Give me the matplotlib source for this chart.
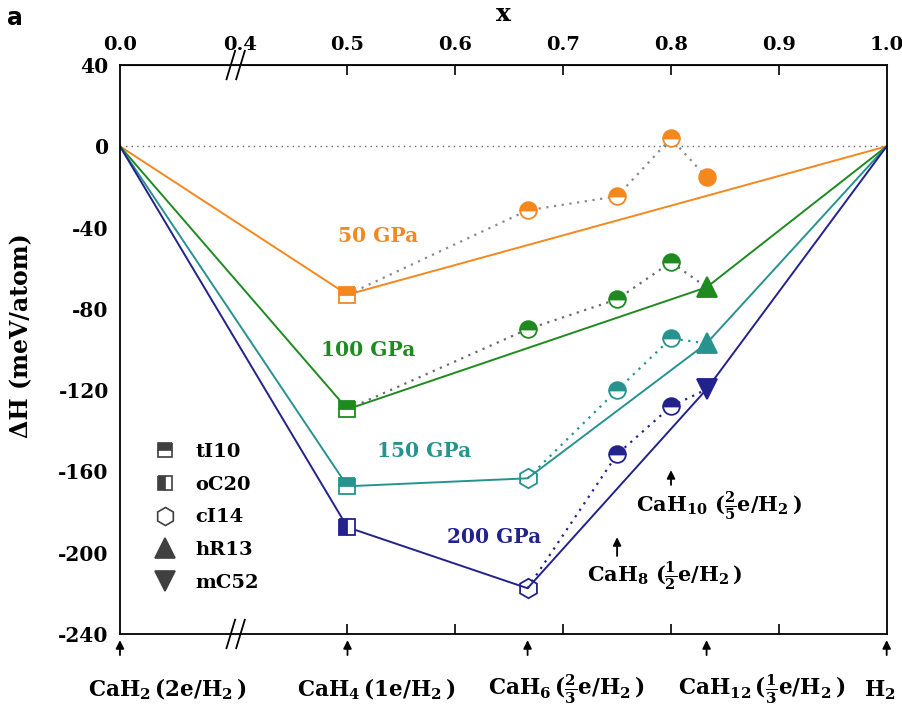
import matplotlib
matplotlib.use("Agg")
import matplotlib.pyplot as plt
from matplotlib.lines import Line2D

plt.rcParams['font.family'] = 'DejaVu Serif'
plt.rcParams['font.weight'] = 'bold'
plt.rcParams['mathtext.fontset'] = 'custom'
plt.rcParams['mathtext.rm'] = 'DejaVu Serif:bold'
plt.rcParams['mathtext.it'] = 'DejaVu Serif:bold'
plt.rcParams['mathtext.bf'] = 'DejaVu Serif:bold'
plt.rcParams['axes.unicode_minus'] = False

# compositions x (CaH4, CaH6, CaH8, CaH10, CaH12)
x_comp = [0.5, 0.667, 0.75, 0.8, 0.833]
x_ends = [0.0, 1.0]

# formation enthalpies (meV/atom)
dH_50 = [-73, -31.5, -24.6, 3.9, -15.3]
dH_100 = [-129.4, -90, -75.3, -57, -69.4]
dH_150 = [-167.3, -163.4, -120, -94.5, -97]
dH_200 = [-187.5, -217.5, -151.6, -128, -119.6]

# indices (into x_comp) on the convex hull / on the dotted branch
hull_50, hull_100, hull_150, hull_200 = [0], [0, 4], [0, 1, 4], [0, 1, 4]
dot_50, dot_100, dot_150, dot_200 = [0, 1, 2, 3, 4], [0, 1, 2, 3, 4], [1, 2, 3, 4], [1, 2, 3, 4]

# phase of each point
ph_50 = ['tI10', 'half', 'half', 'half', 'full']
ph_100 = ['tI10', 'half', 'half', 'half', 'hR13']
ph_150 = ['tI10', 'cI14', 'half', 'half', 'hR13']
ph_200 = ['oC20', 'cI14', 'half', 'half', 'mC52']

pressures = ['50 GPa', '100 GPa', '150 GPa', '200 GPa']
top_ticks = [0.0, 0.4, 0.5, 0.6, 0.7, 0.8, 0.9, 1.0]
top_labels = ['0.0', '0.4', '0.5', '0.6', '0.7', '0.8', '0.9', '1.0']
bottom_x = [0.0, 0.5, 0.667, 0.833, 1.0]
bottom_labels = [r'CaH$_2\,$(2e/H$_2\,$)', r'CaH$_4\,$(1e/H$_2\,$)', r'CaH$_6\,$($\frac{2}{3}$e/H$_2\,$)',
                 r'CaH$_{12}\,$($\frac{1}{3}$e/H$_2\,$)', r'H$_2$']
legend_phases = ['tI10', 'oC20', 'cI14', 'hR13', 'mC52']

colors = ['#F5871F', '#1F8A1F', '#26938E', '#22228C']
dot_colors = ['#8a8a8a', '#6a6a6a', '#26938E', '#22228C']

marker_style = {
    'tI10': dict(marker='s', fillstyle='top', ms=11),
    'oC20': dict(marker='s', fillstyle='left', ms=11),
    'cI14': dict(marker='h', fillstyle='none', ms=14),
    'hR13': dict(marker='^', fillstyle='full', ms=15),
    'mC52': dict(marker='v', fillstyle='full', ms=15),
    'half': dict(marker='o', fillstyle='top', ms=12),
    'full': dict(marker='o', fillstyle='full', ms=12),
}


def to_u(x):
    # broken axis: 0.0-0.4 squeezed
    if x < 0.4:
        return 0.4 - (0.4 - x) * 0.111 / 0.4
    return x


fig = plt.figure(figsize=(9.02, 7.07), dpi=100)
ax = fig.add_axes([0.133, 0.1033, 0.850, 0.8047])

ax.axhline(0, color='#666666', ls=(0, (1, 3)), lw=1, zorder=1)

series = [(dH_50, hull_50, dot_50, ph_50), (dH_100, hull_100, dot_100, ph_100),
          (dH_150, hull_150, dot_150, ph_150), (dH_200, hull_200, dot_200, ph_200)]

for (dh, hull, dots, ph), c, dc in zip(series, colors, dot_colors):
    hx = [to_u(x_ends[0])] + [x_comp[i] for i in hull] + [x_ends[1]]
    hy = [0] + [dh[i] for i in hull] + [0]
    ax.plot(hx, hy, color=c, lw=1.4, zorder=2)
    ax.plot([x_comp[i] for i in dots], [dh[i] for i in dots], color=dc,
            ls=(0, (1, 2.5)), lw=1.6, zorder=2)
    for xi, yi, p in zip(x_comp, dh, ph):
        st = marker_style[p]
        ax.plot(xi, yi, marker=st['marker'], ms=st['ms'], fillstyle=st['fillstyle'],
                color=c, markerfacecoloralt='white', markeredgecolor=c,
                markeredgewidth=1.3, ls='none', zorder=4)

# pressure labels
lab_pos = [(0.528, -44), (0.519, -100), (0.571, -150), (0.636, -192.5)]
for txt, c, (lx, ly) in zip(pressures, colors, lab_pos):
    ax.text(lx, ly, txt, color=c, fontsize=14.5, fontweight='bold', ha='center', va='center')

# CaH8 / CaH10 arrows
ax.annotate('', xy=(0.75, -191), xytext=(0.75, -203),
            arrowprops=dict(arrowstyle='-|>', color='black', lw=1.3, mutation_scale=12))
ax.text(0.794, -211.5, r'CaH$_8$ ($\frac{1}{2}$e/H$_2\,$)', fontsize=15, ha='center', va='center')
ax.annotate('', xy=(0.8, -158), xytext=(0.8, -168),
            arrowprops=dict(arrowstyle='-|>', color='black', lw=1.3, mutation_scale=12))
ax.text(0.844, -177, r'CaH$_{10}$ ($\frac{2}{5}$e/H$_2\,$)', fontsize=15, ha='center', va='center')

ax.set_xlim(to_u(0.0), 1.0)
ax.set_ylim(-240, 40)
ax.set_yticks(range(-240, 41, 40))
ax.set_xticks([0.5, 0.6, 0.7, 0.8, 0.9])
ax.set_xticklabels([])
ax.tick_params(axis='x', direction='in', length=7, top=True, bottom=True, width=1.2)
ax.tick_params(axis='y', length=0, labelsize=14.5, pad=8)
for lbl in ax.get_yticklabels():
    lbl.set_fontweight('bold')
for sp in ax.spines.values():
    sp.set_linewidth(1.3)
ax.set_ylabel('ΔH (meV/atom)', fontsize=17, fontweight='bold')
ax.yaxis.set_label_coords(-0.113, 0.525)

top = ax.secondary_xaxis('top')
top.set_xticks([to_u(t) for t in top_ticks])
top.set_xticklabels(top_labels, fontsize=14, fontweight='bold')
top.tick_params(length=0, pad=8)
top.set_xlabel('x', fontsize=18, fontweight='bold', labelpad=11)

# axis break marks
bx = to_u(0.392)
for yb in (0.0, 1.0):
    for dx in (-0.006, 0.003):
        ax.plot([bx + dx - 0.004, bx + dx + 0.004], [yb - 0.025, yb + 0.025],
                transform=ax.get_xaxis_transform(), color='black', lw=1.3, clip_on=False)

# bottom arrows and compound labels
offsets = [-32, -50, -40, -29, -23]
for xb, lab, off in zip(bottom_x, bottom_labels, offsets):
    u = to_u(xb)
    ax.annotate('', xy=(u, -0.006), xytext=(u, -0.042), xycoords=('data', 'axes fraction'),
                textcoords=('data', 'axes fraction'),
                arrowprops=dict(arrowstyle='-|>', color='black', lw=1.3, mutation_scale=12),
                annotation_clip=False)
    ax.annotate(lab, xy=(u, -0.098), xycoords=('data', 'axes fraction'),
                xytext=(off * 0.72, 0), textcoords='offset points',
                fontsize=15.5, ha='left', va='center', annotation_clip=False)

# legend
handles = []
for p in legend_phases:
    st = marker_style[p]
    handles.append(Line2D([], [], marker=st['marker'], ms=st['ms'] - 1, fillstyle=st['fillstyle'],
                          color='#404040', markerfacecoloralt='white', markeredgecolor='#404040',
                          markeredgewidth=1.2, ls='none'))
ax.legend(handles, legend_phases, loc='upper left', bbox_to_anchor=(0.01, 0.366), frameon=False,
          handletextpad=0.6, labelspacing=0.75, prop={'weight': 'bold', 'size': 14})

fig.text(0.008, 0.975, 'a', fontsize=17, family='DejaVu Sans', va='center')

fig.savefig('out.png', dpi=100)
